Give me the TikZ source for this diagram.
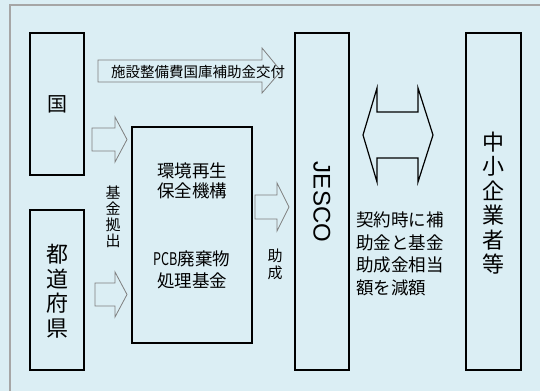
\documentclass[tikz,border=0pt]{standalone}
\usepackage{fontspec}
\setmainfont{Noto Sans CJK JP}
\newfontfamily\latinsans{Liberation Sans}
\definecolor{bgcol}{HTML}{DBEEF4}
\definecolor{framecol}{HTML}{A6A6A6}
\definecolor{arrcol}{HTML}{7F7F7F}
\begin{document}
\begin{tikzpicture}[x=1pt,y=-1pt,
  box/.style={draw=black,line width=1.5pt,inner sep=0pt},
  blockarrow/.style={draw=arrcol,line width=0.8pt,fill=bgcol,line join=miter},
  dblarrow/.style={draw=black,line width=1.2pt,fill=bgcol,line join=miter},
  lbl/.style={inner sep=0pt,align=center,text=black}]
\fill[bgcol] (0,0) rectangle (540,391);
\useasboundingbox (0,0) rectangle (540,391);
\draw[framecol,line width=1.2pt] (10,391) -- (10,5) -- (540,5);

% boxes
\node[box,minimum width=54pt,minimum height=142pt] (kuni) at (57,104) {};
\node[box,minimum width=54pt,minimum height=160pt] (todo) at (57,290) {};
\node[box,minimum width=120pt,minimum height=216pt] (kiko) at (192,235) {};
\node[box,minimum width=54pt,minimum height=337pt] (jesco) at (322,201.5) {};
\node[box,minimum width=55pt,minimum height=337pt] (chusho) at (493.5,201.5) {};

% box texts
\node[lbl,font=\fontsize{20}{20}\selectfont] (t1) at (kuni.center) {国};
\node[lbl,font=\fontsize{22}{24.5}\selectfont] (t2) at (57,291) {都\\道\\府\\県};
\node[lbl,font=\fontsize{17.5}{20}\selectfont] (t3) at (192,181) {環境再生\\保全機構};
\node[lbl,font=\fontsize{17.5}{22}\selectfont] (t4) at (192,270) {\scalebox{0.72}[1]{PCB}廃棄物\\処理基金};
\node[lbl,rotate=-90,font=\latinsans\fontsize{24}{24}\selectfont] (t5) at (322,202) {JESCO};
\node[lbl,font=\fontsize{22}{24.5}\selectfont] (t6) at (493,203) {中\\小\\企\\業\\者\\等};

% block arrows
\draw[blockarrow] (98,60) -- (262,60) -- (262,48) -- (281,71) -- (262,93) -- (262,82) -- (98,82) -- cycle;
\draw[blockarrow] (92,128) -- (115,128) -- (115,117) -- (127,139.5) -- (115,162) -- (115,151) -- (92,151) -- cycle;
\draw[blockarrow] (95,283) -- (115,283) -- (115,272) -- (127,294.5) -- (115,317) -- (115,306) -- (95,306) -- cycle;
\draw[blockarrow] (255,195) -- (277,195) -- (277,183) -- (289,207) -- (277,231) -- (277,219) -- (255,219) -- cycle;
\draw[dblarrow] (363,135) -- (377,88) -- (377,112) -- (418,112) -- (418,88) -- (433,135) -- (418,182) -- (418,158) -- (377,158) -- (377,182) -- cycle;

% labels
\node[lbl,font=\fontsize{14.5}{14.5}\selectfont] (l1) at (198,72) {施設整備費国庫補助金交付};
\node[lbl,font=\fontsize{15}{16}\selectfont] (l2) at (113,217) {基\\金\\拠\\出};
\node[lbl,font=\fontsize{15}{17}\selectfont] (l3) at (275,264) {助\\成};
\node[lbl,align=left,anchor=west,font=\fontsize{17.5}{22.5}\selectfont] (l4) at (356,254) {契約時に補\\助金と基金\\助成金相当\\額を減額};
\end{tikzpicture}
\end{document}
